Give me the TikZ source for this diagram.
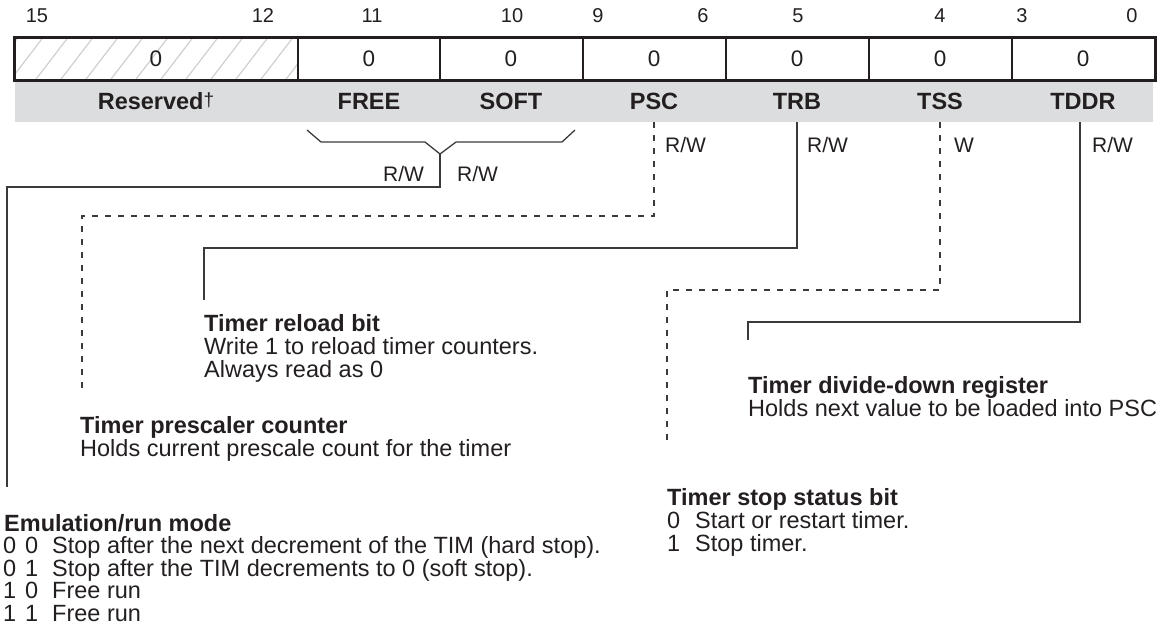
\documentclass[tikz,border=0pt]{standalone}
\usepackage{fontspec}
\setmainfont{Liberation Sans}
\definecolor{ink}{HTML}{231F20}
\definecolor{linec}{HTML}{3A3A3A}
\definecolor{bandc}{HTML}{DCDDDE}
\definecolor{hatchc}{HTML}{CFCFCF}
\begin{document}
\begin{tikzpicture}[x=1pt,y=-1pt,
  every node/.style={inner sep=0pt, text=ink},
  txt/.style={anchor=base west, font=\fontsize{23.5}{24}\selectfont},
  ttl/.style={anchor=base west, font=\fontsize{23.5}{24}\selectfont\bfseries},
  bitno/.style={font=\fontsize{20}{22}\selectfont},
  val/.style={font=\fontsize{22.5}{24}\selectfont},
  fld/.style={font=\fontsize{23.5}{24}\selectfont\bfseries, minimum height=41.5pt, minimum width=10pt},
  acc/.style={anchor=base west, font=\fontsize{21}{24}\selectfont},
  conn/.style={draw=linec, line width=1.3pt},
  dconn/.style={conn, dash pattern=on 6pt off 7pt},
]
\useasboundingbox (0,0) rectangle (1176,627);

% gray band
\fill[bandc] (14.5,80.5) rectangle (1153,122);
% hatch in reserved cell
\begin{scope}
\clip (14.5,37.5) rectangle (298,80.5);
\foreach \x in {-40,-15,...,320} \draw[hatchc, line width=1.2pt] (\x,80.5) -- ++(33,-43);
\end{scope}
% dividers
\foreach \x in {298,440,583,726,869,1012} \draw[ink, line width=2pt] (\x,37.5) -- (\x,80.5);
% register box
\draw[ink, line width=3pt] (14.5,37.5) rectangle (1155,80.5);

% bit numbers
\node[bitno] (b15) at (37,16) {15};
\node[bitno] (b12) at (263,16) {12};
\node[bitno] (b11) at (372,16) {11};
\node[bitno] (b10) at (512,16) {10};
\node[bitno] (b9) at (598,16) {9};
\node[bitno] (b6) at (703,16) {6};
\node[bitno] (b5) at (798,16) {5};
\node[bitno] (b4) at (940,16) {4};
\node[bitno] (b3) at (1022,16) {3};
\node[bitno] (b0) at (1132,16) {0};

% values
\foreach \x/\n in {156/v1,369/v2,511/v3,654/v4,797/v5,940/v6,1083/v7} \node[val] (\n) at (\x,58.5) {0};

% field names
\node[fld] (res) at (156,101.25) {Reserved\raisebox{3pt}{\normalfont\fontsize{19}{22}\selectfont †}};
\node[fld] (free) at (369,101.25) {FREE};
\node[fld] (soft) at (511,101.25) {SOFT};
\node[fld] (psc) at (654,101.25) {PSC};
\node[fld] (trb) at (797,101.25) {TRB};
\node[fld] (tss) at (940,101.25) {TSS};
\node[fld] (tddr) at (1083,101.25) {TDDR};

% access labels
\node[acc] (rwf) at (383,181) {R/W};
\node[acc] (rws) at (457,181) {R/W};
\node[acc] (rwp) at (665,152) {R/W};
\node[acc] (rwt) at (807,152) {R/W};
\node[acc] (wss) at (954,152) {W};
\node[acc] (rwd) at (1092,152) {R/W};

% descriptions
\node[ttl] (trbT) at (204,331) {Timer reload bit};
\node[txt] (trb1) at (204,354) {Write 1 to reload timer counters.};
\node[txt] (trb2) at (204,377) {Always read as 0};

\node[ttl] (pscT) at (80,433) {Timer prescaler counter};
\node[txt] (psc1) at (80,456) {Holds current prescale count for the timer};

\node[ttl] (tddrT) at (748,393) {Timer divide-down register};
\node[txt] (tddr1) at (748,416) {Holds next value to be loaded into PSC};

\node[ttl] (tssT) at (667,505) {Timer stop status bit};
\node[txt] (tss0) at (667,528) {0};
\node[txt] (tss0t) at (695,528) {Start or restart timer.};
\node[txt] (tss1) at (667,551) {1};
\node[txt] (tss1t) at (695,551) {Stop timer.};

\node[ttl] (emuT) at (4,531) {Emulation/run mode};
\foreach \y/\a/\b/\t [count=\i] in {553.5/0/0/{Stop after the next decrement of the TIM (hard stop).},
  576/0/1/{Stop after the TIM decrements to 0 (soft stop).},
  598.5/1/0/{Free run},
  621/1/1/{Free run}} {
  \node[txt] (emuA\i) at (3,\y) {\a};
  \node[txt] (emuB\i) at (25,\y) {\b};
  \node[txt] (emuC\i) at (52,\y) {\t};
}

% connectors
\coordinate (brL) at (307,130);
\coordinate (brR) at (575,130);
\coordinate (brM) at (440,154);
\coordinate (emuK) at (7,187);
\coordinate (emuE) at (7,487);
\draw[conn, line join=miter] (brL) -- (321,142) -- (425,142) -- (brM) -- (456,142) -- (562,142) -- (brR);
\draw[conn] (brM) |- (emuK) -- (emuE);

\coordinate (pscK) at (82,216);
\coordinate (pscE) at (82,392);
\draw[dconn] (psc.south) |- (pscK) -- (pscE);

\coordinate (trbK) at (204,248);
\coordinate (trbE) at (204,300);
\draw[conn] (trb.south) |- (trbK) -- (trbE);

\coordinate (tssK) at (667,290);
\coordinate (tssE) at (667,447);
\draw[dconn] (tss.south) |- (tssK) -- (tssE);

\coordinate (tddrK) at (748,322);
\coordinate (tddrE) at (748,340);
\draw[conn] ([xshift=-3pt]tddr.south) |- (tddrK) -- (tddrE);
\end{tikzpicture}
\end{document}
